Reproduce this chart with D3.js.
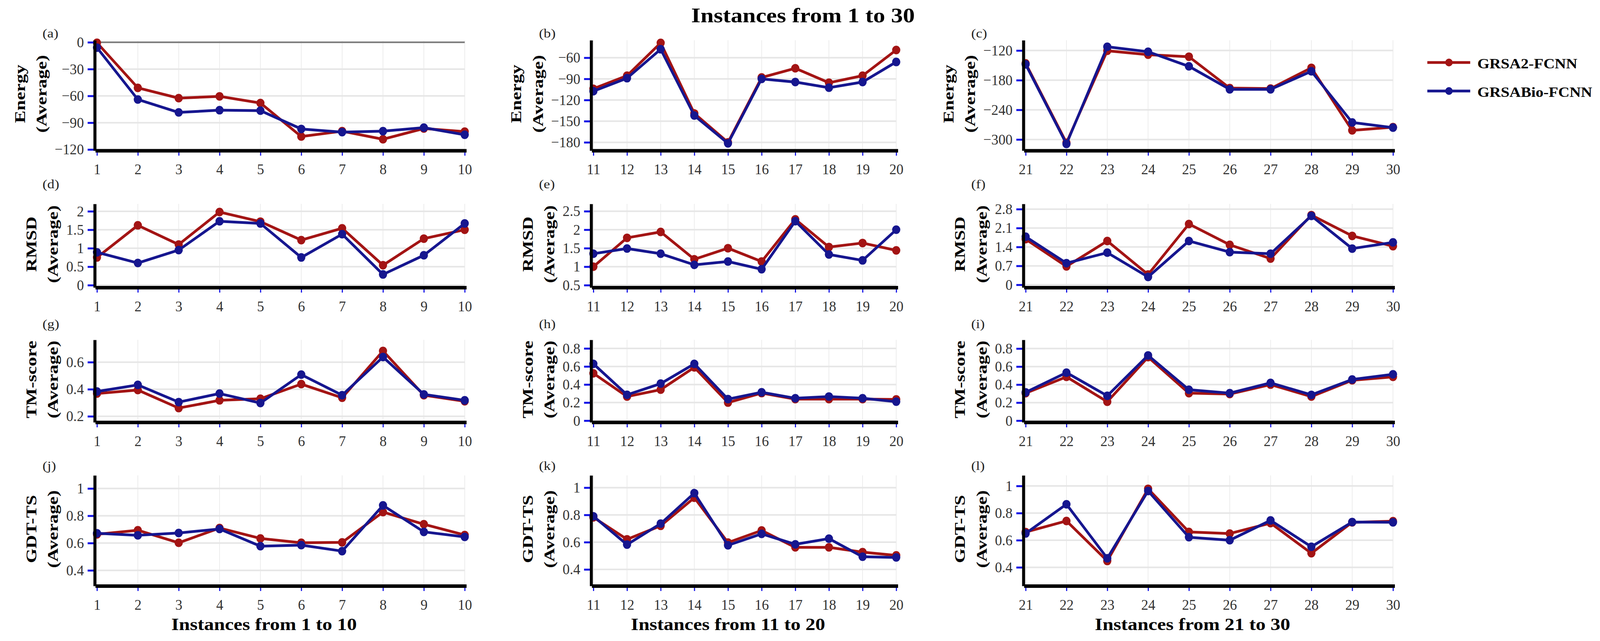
<!DOCTYPE html>
<html>
<head>
<meta charset="utf-8">
<script src="https://cdn.jsdelivr.net/npm/d3@7"></script>
<style>
  html, body { margin: 0; padding: 0; background: #fff; overflow: hidden; }
  #chart { width: 100vw; height: 100vh; }
  svg { display: block; }
</style>
</head>
<body>
<div id="chart"></div>
<script>
// categories (instance numbers on the x axes)
const instances1to10 = [1, 2, 3, 4, 5, 6, 7, 8, 9, 10];
const instances11to20 = [11, 12, 13, 14, 15, 16, 17, 18, 19, 20];
const instances21to30 = [21, 22, 23, 24, 25, 26, 27, 28, 29, 30];

const seriesNames = ['GRSA2-FCNN', 'GRSABio-FCNN'];

// Energy (Average)
const energyGrsa2_1to10 = [-0.5, -51, -62.5, -60.5, -68, -105.5, -99.5, -108.5, -96.5, -100];
const energyBio_1to10 = [-6, -64, -78.5, -76, -76.5, -97, -100.5, -99.5, -95.5, -103.5];
const energyGrsa2_11to20 = [-104, -85.5, -39, -139, -180, -88, -75, -95.5, -85.5, -49];
const energyBio_11to20 = [-107.5, -89, -48, -142, -181.5, -90, -94.5, -102.5, -94.5, -66];
const energyGrsa2_21to30 = [-146, -306.5, -120.5, -128.5, -132.5, -196, -197, -155, -281.5, -275];
const energyBio_21to30 = [-148, -309, -112.5, -122.5, -152, -198.5, -198.5, -162, -265.5, -276];

// RMSD (Average)
const rmsdGrsa2_1to10 = [0.75, 1.62, 1.10, 1.98, 1.72, 1.22, 1.54, 0.54, 1.26, 1.50];
const rmsdBio_1to10 = [0.89, 0.60, 0.95, 1.73, 1.67, 0.75, 1.38, 0.29, 0.81, 1.67];
const rmsdGrsa2_11to20 = [1.0, 1.78, 1.94, 1.20, 1.50, 1.14, 2.28, 1.53, 1.64, 1.44];
const rmsdBio_11to20 = [1.35, 1.49, 1.35, 1.05, 1.14, 0.93, 2.23, 1.33, 1.17, 2.0];
const rmsdGrsa2_21to30 = [1.69, 0.68, 1.62, 0.38, 2.25, 1.48, 0.97, 2.58, 1.81, 1.43];
const rmsdBio_21to30 = [1.78, 0.80, 1.19, 0.29, 1.62, 1.21, 1.15, 2.55, 1.34, 1.57];

// TM-score (Average)
const tmGrsa2_1to10 = [0.368, 0.394, 0.261, 0.318, 0.33, 0.438, 0.337, 0.683, 0.356, 0.311];
const tmBio_1to10 = [0.383, 0.432, 0.305, 0.368, 0.298, 0.508, 0.356, 0.638, 0.362, 0.318];
const tmGrsa2_11to20 = [0.524, 0.267, 0.343, 0.59, 0.2, 0.305, 0.238, 0.238, 0.238, 0.235];
const tmBio_11to20 = [0.629, 0.286, 0.41, 0.629, 0.238, 0.314, 0.248, 0.267, 0.248, 0.21];
const tmGrsa2_21to30 = [0.305, 0.486, 0.21, 0.705, 0.305, 0.295, 0.40, 0.267, 0.448, 0.486];
const tmBio_21to30 = [0.314, 0.533, 0.276, 0.724, 0.343, 0.305, 0.419, 0.286, 0.457, 0.514];

// GDT-TS (Average)
const gdtGrsa2_1to10 = [0.664, 0.694, 0.602, 0.71, 0.634, 0.602, 0.605, 0.827, 0.738, 0.659];
const gdtBio_1to10 = [0.672, 0.657, 0.674, 0.703, 0.577, 0.585, 0.541, 0.876, 0.682, 0.645];
const gdtGrsa2_11to20 = [0.782, 0.621, 0.72, 0.926, 0.597, 0.686, 0.562, 0.562, 0.527, 0.503];
const gdtBio_11to20 = [0.79, 0.582, 0.736, 0.96, 0.577, 0.661, 0.584, 0.626, 0.493, 0.488];
const gdtGrsa2_21to30 = [0.66, 0.742, 0.447, 0.979, 0.661, 0.649, 0.726, 0.504, 0.732, 0.74];
const gdtBio_21to30 = [0.65, 0.865, 0.467, 0.963, 0.622, 0.6, 0.746, 0.552, 0.734, 0.732];

// y tick labels
const energyTicks1to10 = [0, -30, -60, -90, -120];
const energyTicks11to20 = [-60, -90, -120, -150, -180];
const energyTicks21to30 = [-120, -180, -240, -300];
const rmsdTicks1to10 = [0, 0.5, 1, 1.5, 2];
const rmsdTicks11to20 = [0.5, 1, 1.5, 2, 2.5];
const rmsdTicks21to30 = [0, 0.7, 1.4, 2.1, 2.8];
const tmTicks1to10 = [0.2, 0.4, 0.6];
const tmTicks11to30 = [0, 0.2, 0.4, 0.6, 0.8];
const gdtTicks = [0.4, 0.6, 0.8, 1];

const xTitles = ['Instances from 1 to 10', 'Instances from 11 to 20', 'Instances from 21 to 30'];
const chartTitle = 'Instances from 1 to 30';

// layout, in the 4290 x 1641 frame of the source figure
const W = 4290, H = 1641;
const serif = '"Liberation Serif", "Times New Roman", serif';
const red = '#a31414', blue = '#16168f', tickBlue = '#1212e6';
const cols = [{ x0: 260, x1: 1246 }, { x0: 1591, x1: 2403 }, { x0: 2750, x1: 3735 }];
const rows = [
  { top: 103, bottom: 385.5, tagY: 96 },
  { top: 522, bottom: 736, tagY: 482 },
  { top: 870, bottom: 1081, tagY: 840 },
  { top: 1217, bottom: 1500, tagY: 1203 }
];

const panels = [
  { tag: '(a)', metric: 'Energy', col: 0, row: 0, xs: instances1to10, a: energyGrsa2_1to10, b: energyBio_1to10, ticks: energyTicks1to10, domain: [-121.2, 2.3] },
  { tag: '(b)', metric: 'Energy', col: 1, row: 0, xs: instances11to20, a: energyGrsa2_11to20, b: energyBio_11to20, ticks: energyTicks11to20, domain: [-191.7, -35.2] },
  { tag: '(c)', metric: 'Energy', col: 2, row: 0, xs: instances21to30, a: energyGrsa2_21to30, b: energyBio_21to30, ticks: energyTicks21to30, domain: [-322.4, -99.2] },
  { tag: '(d)', metric: 'RMSD', col: 0, row: 1, xs: instances1to10, a: rmsdGrsa2_1to10, b: rmsdBio_1to10, ticks: rmsdTicks1to10, domain: [-0.063, 2.2] },
  { tag: '(e)', metric: 'RMSD', col: 1, row: 1, xs: instances11to20, a: rmsdGrsa2_11to20, b: rmsdBio_11to20, ticks: rmsdTicks11to20, domain: [0.437, 2.698] },
  { tag: '(f)', metric: 'RMSD', col: 2, row: 1, xs: instances21to30, a: rmsdGrsa2_21to30, b: rmsdBio_21to30, ticks: rmsdTicks21to30, domain: [-0.1, 2.994] },
  { tag: '(g)', metric: 'TM-score', col: 0, row: 2, xs: instances1to10, a: tmGrsa2_1to10, b: tmBio_1to10, ticks: tmTicks1to10, domain: [0.156, 0.765] },
  { tag: '(h)', metric: 'TM-score', col: 1, row: 2, xs: instances11to20, a: tmGrsa2_11to20, b: tmBio_11to20, ticks: tmTicks11to30, domain: [-0.018, 0.895] },
  { tag: '(i)', metric: 'TM-score', col: 2, row: 2, xs: instances21to30, a: tmGrsa2_21to30, b: tmBio_21to30, ticks: tmTicks11to30, domain: [-0.018, 0.897] },
  { tag: '(j)', metric: 'GDT-TS', col: 0, row: 3, xs: instances1to10, a: gdtGrsa2_1to10, b: gdtBio_1to10, ticks: gdtTicks, domain: [0.286, 1.096] },
  { tag: '(k)', metric: 'GDT-TS', col: 1, row: 3, xs: instances11to20, a: gdtGrsa2_11to20, b: gdtBio_11to20, ticks: gdtTicks, domain: [0.279, 1.09] },
  { tag: '(l)', metric: 'GDT-TS', col: 2, row: 3, xs: instances21to30, a: gdtGrsa2_21to30, b: gdtBio_21to30, ticks: gdtTicks, domain: [0.263, 1.078] }
];

// the svg fills the window whatever its real size is
const svg = d3.select('#chart').append('svg')
  .attr('width', '100%')
  .attr('height', '100%')
  .attr('viewBox', `0 0 ${W} ${H}`)
  .attr('preserveAspectRatio', 'none')
  .attr('font-family', serif);

svg.append('rect').attr('width', W).attr('height', H).attr('fill', '#fff');

// text that is a bit wider than the font, like the source figure
function wideText(parent, txt, x, y, size, opts) {
  opts = opts || {};
  return parent.append('text')
    .attr('transform', `translate(${x},${y}) rotate(${opts.rotate || 0}) scale(${opts.stretch || 1.2},1)`)
    .attr('text-anchor', opts.anchor || 'start')
    .attr('font-size', size)
    .attr('font-weight', opts.weight || 'bold')
    .attr('fill', opts.fill || '#000')
    .text(txt);
}

const fmt = d => d < 0 ? '\u2212' + Math.abs(d) : String(d);

panels.forEach(p => {
  const c = cols[p.col], r = rows[p.row];
  const x = d3.scaleLinear().domain(d3.extent(p.xs)).range([c.x0, c.x1]);
  const y = d3.scaleLinear().domain(p.domain).range([r.bottom, r.top]);
  const g = svg.append('g');

  // grid
  g.selectAll('line.vgrid').data(p.xs).join('line')
    .attr('class', 'vgrid')
    .attr('x1', d => x(d)).attr('x2', d => x(d))
    .attr('y1', r.top).attr('y2', r.bottom)
    .attr('stroke', '#ececec').attr('stroke-width', 2);
  g.selectAll('line.hgrid').data(p.ticks).join('line')
    .attr('class', 'hgrid')
    .attr('x1', c.x0).attr('x2', c.x1)
    .attr('y1', d => y(d)).attr('y2', d => y(d))
    .attr('stroke', '#e6e6e6').attr('stroke-width', 4);

  // zero line, only where it stands clear of the x axis
  if (p.domain[0] < 0 && p.domain[1] > 0 && r.bottom - y(0) > 10) {
    g.append('line')
      .attr('x1', c.x0).attr('x2', c.x1)
      .attr('y1', y(0)).attr('y2', y(0))
      .attr('stroke', '#7a7a7a').attr('stroke-width', 4);
  }

  // the two series
  [[p.a, red], [p.b, blue]].forEach(([vals, col]) => {
    const line = d3.line().x((d, i) => x(p.xs[i])).y(d => y(d));
    g.append('path').datum(vals)
      .attr('d', line)
      .attr('fill', 'none')
      .attr('stroke', col)
      .attr('stroke-width', 7)
      .attr('stroke-linejoin', 'round');
    g.selectAll(null).data(vals).join('circle')
      .attr('cx', (d, i) => x(p.xs[i]))
      .attr('cy', d => y(d))
      .attr('r', 11)
      .attr('fill', col);
  });

  // y axis
  const ya = g.append('g')
    .attr('transform', `translate(${c.x0 - 6},0)`)
    .call(d3.axisLeft(y).tickValues(p.ticks).tickFormat(fmt)
      .tickSize(19).tickSizeOuter(0).tickPadding(10));
  ya.attr('font-family', serif).attr('font-size', 38);
  ya.selectAll('.tick line').attr('stroke', tickBlue).attr('stroke-width', 5);
  ya.selectAll('.tick text').attr('fill', '#333');
  ya.select('.domain').attr('stroke', '#000').attr('stroke-width', 8).raise();

  // x axis
  const xa = g.append('g')
    .attr('transform', `translate(0,${r.bottom})`)
    .call(d3.axisBottom(x).tickValues(p.xs).tickFormat(d3.format('d'))
      .tickSize(13).tickSizeOuter(0).tickPadding(21));
  xa.attr('font-family', serif).attr('font-size', 38);
  xa.selectAll('.tick line').attr('stroke', tickBlue).attr('stroke-width', 3);
  xa.selectAll('.tick text').attr('fill', '#333');
  xa.select('.domain').attr('stroke', '#000').attr('stroke-width', 9)
    .attr('stroke-linecap', 'square').raise();

  // y title, two lines, left of the tick labels
  const bb = ya.node().getBBox();
  const base = c.x0 - 6 + bb.x - 22;
  const cy = (r.top + r.bottom) / 2 - 4;
  wideText(g, '(Average)', base, cy, 40, { rotate: -90, anchor: 'middle' });
  wideText(g, p.metric, base - 58, cy, 40, { rotate: -90, anchor: 'middle' });

  // panel tag
  wideText(g, p.tag, c.x0 - 146, r.tagY, 32, { weight: 'normal', fill: '#222' });

  // x title on the bottom row
  if (p.row === rows.length - 1) {
    wideText(g, xTitles[p.col], (c.x0 + c.x1) / 2 - 45, 1613, 44, { anchor: 'middle' });
  }
});

// main title
wideText(svg, chartTitle, 2153, 57, 53, { anchor: 'middle' });

// legend
const legendY = [160, 233];
const legend = svg.append('g');
seriesNames.forEach((name, i) => {
  const col = i === 0 ? red : blue;
  legend.append('line')
    .attr('x1', 3827).attr('x2', 3942)
    .attr('y1', legendY[i]).attr('y2', legendY[i])
    .attr('stroke', col).attr('stroke-width', 7);
  legend.append('circle')
    .attr('cx', 3885).attr('cy', legendY[i]).attr('r', 10).attr('fill', col);
  wideText(legend, name, 3961, legendY[i] + 15, 35);
});
</script>
</body>
</html>
